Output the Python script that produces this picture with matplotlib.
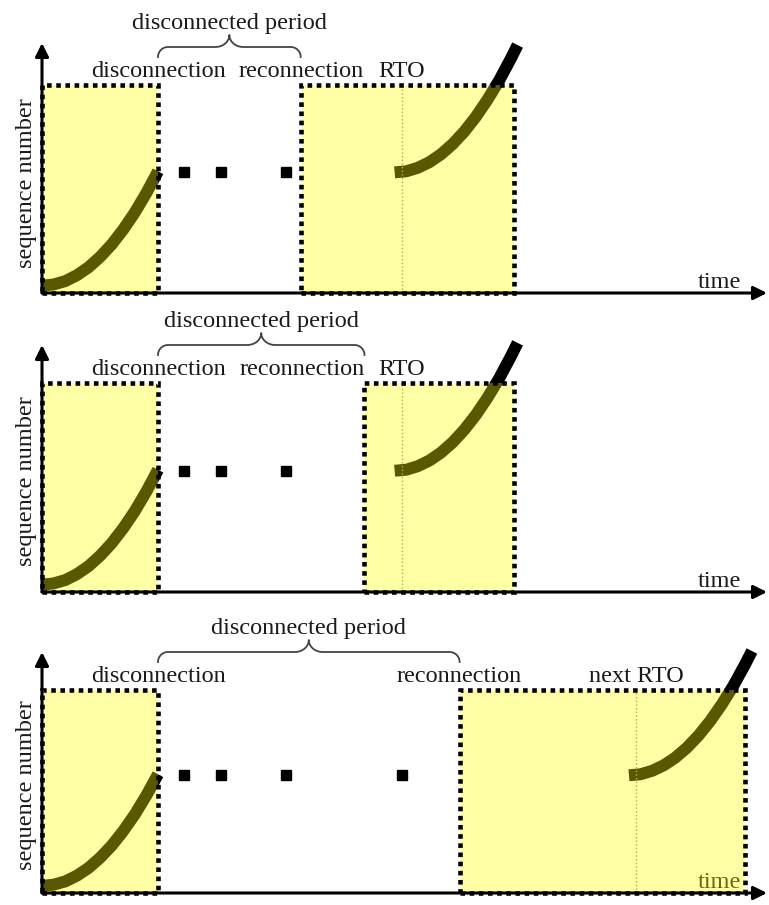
import numpy as np
import matplotlib
matplotlib.use("Agg")
import matplotlib.pyplot as plt
from matplotlib.patches import Rectangle

# %%
# DATA (time in arbitrary units, sequence number normalised to window top = 1)
disconnect_t = [10.0, 10.0, 10.0]
reconnect_t = [22.3, 27.8, 36.0]
rto_t = [31.0, 31.0, 51.2]
window_end_t = [40.7, 40.7, 60.6]
retrans_t = [[12.2, 15.4, 21.0], [12.2, 15.4, 21.0], [12.2, 15.4, 21.0, 31.0]]
retrans_seq = 0.58

# sending curve before the disconnection
before_t = [0.0, 1.0, 2.0, 3.0, 4.0, 5.0, 6.0, 7.0, 8.0, 9.0, 10.0]
before_seq = [0.035, 0.041, 0.057, 0.085, 0.123, 0.173, 0.233, 0.305, 0.387, 0.481, 0.585]

# sending curve after the timer fires (time offset from its start)
after_dt = [0.0, 1.0, 2.0, 3.0, 4.0, 5.0, 6.0, 7.0, 8.0, 9.0, 10.0, 10.6]
after_seq = [0.58, 0.585, 0.602, 0.629, 0.667, 0.716, 0.776, 0.847, 0.929, 1.021, 1.125, 1.192]
after_start_t = [30.4, 30.4, 50.6]

event_labels = [
    [("disconnection", 10.0, "center"), ("reconnection", 22.3, "center"), ("RTO", 31.0, "center")],
    [("disconnection", 10.0, "center"), ("reconnection", 27.8, "right"), ("RTO", 31.0, "center")],
    [("disconnection", 10.0, "center"), ("reconnection", 36.0, "center"), ("next RTO", 51.2, "center")],
]
period_label = "disconnected period"

# %%
# LAYOUT (pixels)
W, H = 769, 905
x_left, x_right = 42, 767
kx = 11.6                      # px per time unit
x_axis_px = [293, 592, 893]    # y pixel of time axis
box_top_px = [85, 383, 690]
arrow_tip_px = [43, 345, 652]

font = dict(family="Liberation Serif", fontsize=17.5, color="#1a1a1a")

fig = plt.figure(figsize=(W / 100, H / 100), dpi=100)


def draw_brace(ax, x0, x1, y0, kx, ky, r=10, rt=14, tip=12):
    # curly brace, sizes in pixels converted to data units
    xm = (x0 + x1) / 2
    th = np.linspace(0, np.pi / 2, 20)
    px, py = [], []
    # left end: up then turning right
    px += list(x0 + (r - r * np.cos(th)) / kx)
    py += list(y0 + r * np.sin(th) / ky)
    # into the tip from the left
    px += list(xm + (-rt + rt * np.sin(th)) / kx)
    py += list(y0 + (r + tip * (1 - np.cos(th))) / ky)
    # out of the tip to the right
    px += list(xm + (rt - rt * np.sin(th[::-1])) / kx)
    py += list(y0 + (r + tip * (1 - np.cos(th[::-1]))) / ky)
    # right end: turning down
    px += list(x1 - (r - r * np.cos(th[::-1])) / kx)
    py += list(y0 + r * np.sin(th[::-1]) / ky)
    ax.plot(px, py, color="#444444", lw=1.3, clip_on=False, zorder=5)


for i in range(3):
    ky = x_axis_px[i] - box_top_px[i]
    bottom = 1 - x_axis_px[i] / H
    height = (x_axis_px[i] - arrow_tip_px[i]) / H
    ax = fig.add_axes([x_left / W, bottom, (x_right - x_left) / W, height])
    ax.set_xlim(0, (x_right - x_left) / kx)
    ax.set_ylim(0, (x_axis_px[i] - arrow_tip_px[i]) / ky)
    ax.axis("off")

    # axes arrows
    arrow = dict(arrowstyle="-|>", color="black", lw=2.2, mutation_scale=20, shrinkA=0, shrinkB=0)
    ax.annotate("", xy=(1, 0), xytext=(0, 0), xycoords="axes fraction", arrowprops=arrow, zorder=6)
    ax.annotate("", xy=(0, 1), xytext=(0, 0), xycoords="axes fraction", arrowprops=arrow, zorder=6)

    # sending curves (black, tinted by the window overlay)
    ax.plot(before_t, before_seq, color="black", lw=8.6, solid_capstyle="butt", zorder=2, clip_on=False)
    ax.plot(np.array(after_dt) + after_start_t[i], after_seq, color="black", lw=8.6,
            solid_capstyle="butt", zorder=2, clip_on=False)

    # RTO marker
    ax.plot([rto_t[i], rto_t[i]], [0, 1], color="#8a8a70", lw=1.0, ls=":", zorder=2)

    # retransmission attempts
    ax.plot(retrans_t[i], [retrans_seq] * len(retrans_t[i]), "s", color="black", ms=7.5, zorder=4)

    # time label
    ax.text(60.3, 5 / ky, "time", ha="right", va="baseline", zorder=2, **font)

    # windows
    for t0, t1 in [(0.0, disconnect_t[i]), (reconnect_t[i], window_end_t[i])]:
        ax.add_patch(Rectangle((t0, 0), t1 - t0, 1, facecolor="yellow", alpha=0.35,
                               edgecolor="none", zorder=3))
        ax.add_patch(Rectangle((t0, 0), t1 - t0, 1, fill=False, edgecolor="black",
                               lw=3.3, ls=(0, (1, 1.0)), zorder=4, clip_on=False))

    # event labels
    for text, t, ha in event_labels[i]:
        ax.text(t, 1 + 8 / ky, text, ha=ha, va="baseline", **font)

    # disconnected period brace
    y_brace = 1 + 28 / ky
    draw_brace(ax, disconnect_t[i], reconnect_t[i], y_brace, kx, ky)
    ax.text((disconnect_t[i] + reconnect_t[i]) / 2, y_brace + 28 / ky, period_label,
            ha="center", va="baseline", clip_on=False, **font)

    # y label
    ax.text(-15 / kx, 0.53, "sequence number", rotation=90, ha="center", va="center", **font)

plt.savefig("out.png", dpi=100)
